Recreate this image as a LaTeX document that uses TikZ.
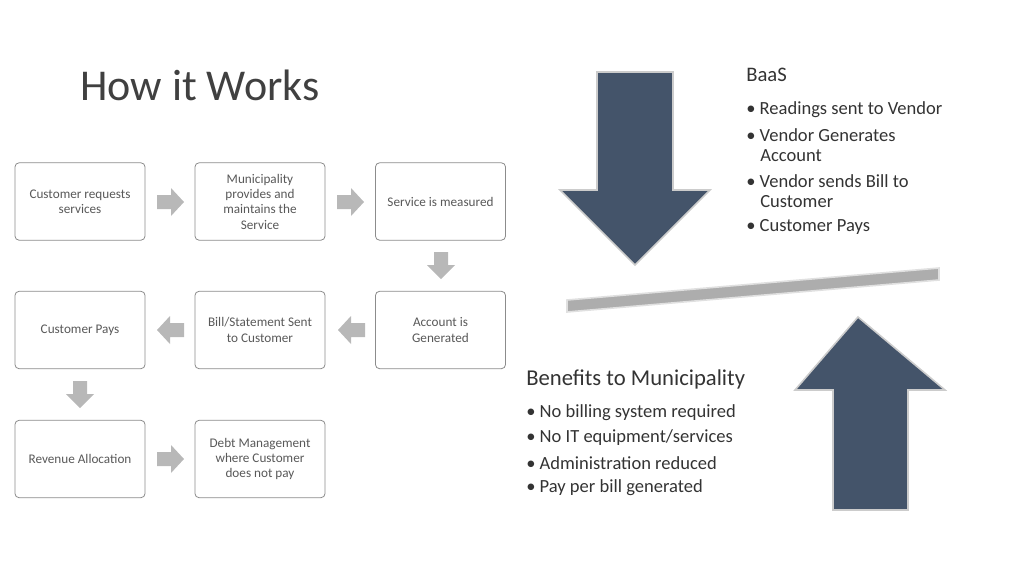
\documentclass[tikz,border=0pt]{standalone}
\usepackage{fontspec}
\setmainfont{Carlito}
\begin{document}
\begin{tikzpicture}[x=0.75pt,y=-0.75pt,
  box/.style={draw=black!45,fill=white,rounded corners=3pt,minimum width=97.5pt,minimum height=58pt,align=center,font=\fontsize{9.9}{11.5}\selectfont,text=black!65,line width=0.6pt},
  sarrow/.style={fill=black!28,draw=none},
  big/.style={draw=black!20,line width=1.2pt},
  txt/.style={anchor=west,text=black!80,inner sep=0},
  btxt/.style={txt,font=\fontsize{13.9}{16}\selectfont}]
\useasboundingbox (0,0) rectangle (1024,576);
\node[txt,text=black!75,font=\fontsize{33}{38}\selectfont] (title) at (80,85) {How it Works};
\node[box] (b1) at (80,201.5) {Customer requests\\services};
\node[box] (b2) at (260,201.5) {Municipality\\provides and\\maintains the\\Service};
\node[box] (b3) at (440.5,201.5) {Service is measured};
\node[box] (b4) at (80,330) {Customer Pays};
\node[box] (b5) at (260,330) {Bill/Statement Sent\\to Customer};
\node[box] (b6) at (440.5,330) {Account is\\Generated};
\node[box] (b7) at (80,459) {Revenue Allocation};
\node[box] (b8) at (260,459) {Debt Management\\where Customer\\does not pay};
% right arrows
\foreach \x/\y in {157/202,337/202,157/459}{
  \fill[sarrow] (\x,\y-7) -- (\x+14,\y-7) -- (\x+14,\y-14) -- (\x+27,\y) -- (\x+14,\y+14) -- (\x+14,\y+7) -- (\x,\y+7) -- cycle;}
% left arrows
\foreach \x/\y in {184/330,365/330}{
  \fill[sarrow] (\x,\y-7) -- (\x-14,\y-7) -- (\x-14,\y-14) -- (\x-27,\y) -- (\x-14,\y+14) -- (\x-14,\y+7) -- (\x,\y+7) -- cycle;}
% down arrows
\foreach \x/\y in {441/252,80/381}{
  \fill[sarrow] (\x-7,\y) -- (\x+7,\y) -- (\x+7,\y+13) -- (\x+14,\y+13) -- (\x,\y+27) -- (\x-14,\y+13) -- (\x-7,\y+13) -- cycle;}
% big arrows
\draw[big,fill={rgb,255:red,68;green,84;blue,106}] (597,72) -- (673,72) -- (673,190) -- (710,190) -- (635,265) -- (560,190) -- (597,190) -- cycle;
\draw[big,fill={rgb,255:red,68;green,84;blue,106}] (833,510) -- (908,510) -- (908,390) -- (945,390) -- (858,317) -- (795,390) -- (833,390) -- cycle;
% balance bar
\draw[fill=black!32,draw=black!12,line width=1.2pt] (567,300) -- (939,268) -- (939,280) -- (567,312) -- cycle;
% text
\node[txt,font=\fontsize{15.5}{18}\selectfont] (baas) at (746,75) {BaaS};
\node[btxt] at (746,110) {• Readings sent to Vendor};
\node[btxt] at (746,135) {• Vendor Generates};
\node[btxt] at (760,156) {Account};
\node[btxt] at (746,181) {• Vendor sends Bill to};
\node[btxt] at (760,202) {Customer};
\node[btxt] at (746,227) {• Customer Pays};
\node[txt,font=\fontsize{17}{20}\selectfont] (ben) at (526,379) {Benefits to Municipality};
\node[btxt] at (526,413) {• No billing system required};
\node[btxt] at (526,438) {• No IT equipment/services};
\node[btxt] at (526,463) {• Administration reduced};
\node[btxt] at (526,488) {• Pay per bill generated};
\end{tikzpicture}
\end{document}
